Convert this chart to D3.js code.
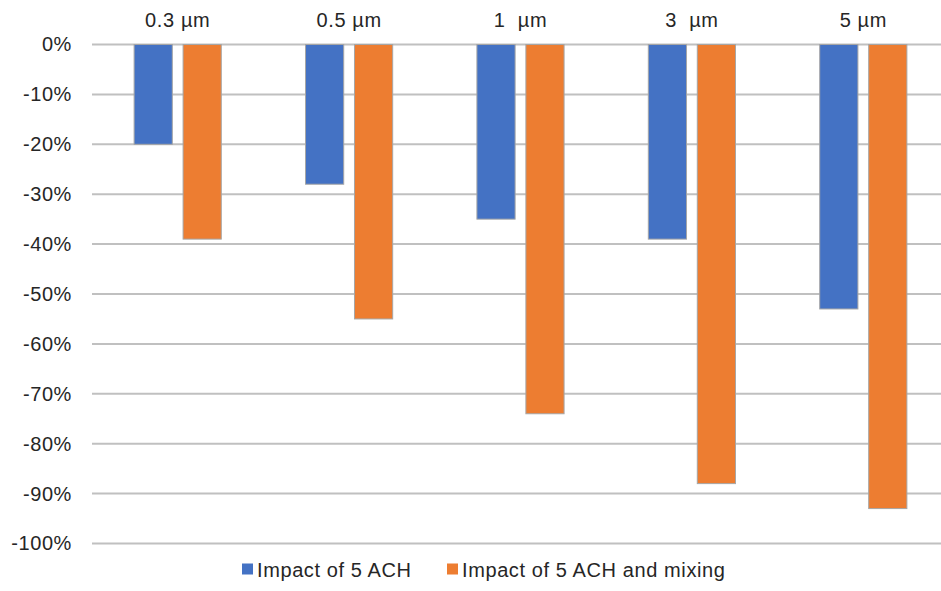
<!DOCTYPE html>
<html lang="en">
<head>
<meta charset="utf-8">
<script src="https://d3js.org/d3.v7.min.js"></script>
<title>Impact of ACH by particle size</title>
<style>
  body { margin: 0; background: #fff; }
  text { font-family: "Liberation Sans", Arial, sans-serif; fill: #262626; }
</style>
</head>
<body>
<svg width="941" height="591"></svg>
<script>
// particle sizes (the double spaces are in the original labels)
var sizes = ["0.3 µm", "0.5 µm", "1  µm", "3  µm", "5 µm"];
var seriesNames = ["Impact of 5 ACH", "Impact of 5 ACH and mixing"];
var ach5 = [-0.20, -0.28, -0.35, -0.39, -0.53];
var ach5Mixing = [-0.39, -0.55, -0.74, -0.88, -0.93];
var yTicks = [0, -0.1, -0.2, -0.3, -0.4, -0.5, -0.6, -0.7, -0.8, -0.9, -1.0];
var colors = ["#4472c4", "#ed7d31"];

var rows = sizes.map(function(s, i) {
  return { size: s, values: [ach5[i], ach5Mixing[i]] };
});

var svg = d3.select("svg");

var x0 = d3.scaleBand()
    .domain(sizes)
    .range([92, 949]);

var x1 = d3.scaleBand()
    .domain(seriesNames)
    .range([0, x0.bandwidth()])
    .paddingInner(0.22)
    .paddingOuter(0.86);

var y = d3.scaleLinear()
    .domain([-1, 0])
    .range([543.5, 44.5]);

var color = d3.scaleOrdinal().domain(seriesNames).range(colors);

// plain hyphen like the original, not d3's unicode minus
var pct = function(d) { return Math.round(d * 100) + "%"; };

// gridlines
svg.append("g")
  .selectAll("line")
  .data(yTicks)
  .enter().append("line")
    .attr("x1", 92)
    .attr("x2", 941)
    .attr("y1", function(d) { return y(d); })
    .attr("y2", function(d) { return y(d); })
    .attr("stroke", "#c0c0c0")
    .attr("stroke-width", 2);

// y axis labels
var yAxis = svg.append("g")
    .attr("transform", "translate(92,0)")
    .call(d3.axisLeft(y).tickValues(yTicks).tickSize(0).tickPadding(20).tickFormat(pct));
yAxis.select(".domain").remove();
yAxis.selectAll("text")
    .style("font-size", "20px")
    .style("letter-spacing", "0.6px")
    .attr("fill", "#262626");

// bars
var group = svg.selectAll(".group")
  .data(rows)
  .enter().append("g")
    .attr("class", "group")
    .attr("transform", function(d) { return "translate(" + x0(d.size) + ",0)"; });

group.selectAll("rect")
  .data(function(d) { return d.values.map(function(v, i) { return { key: seriesNames[i], value: v }; }); })
  .enter().append("rect")
    .attr("x", function(d) { return x1(d.key); })
    .attr("y", y(0))
    .attr("width", x1.bandwidth())
    .attr("height", function(d) { return y(d.value) - y(0); })
    .attr("fill", function(d) { return color(d.key); })
    .attr("stroke", "#a6a6a6")
    .attr("stroke-width", 1);

// category labels on top
var xAxis = svg.append("g")
    .attr("transform", "translate(0,44.5)")
    .call(d3.axisTop(x0).tickSize(0).tickPadding(17.5));
xAxis.select(".domain").remove();
xAxis.selectAll("text")
    .style("font-size", "20px")
    .style("letter-spacing", "0.6px")
    .style("white-space", "pre")
    .attr("fill", "#262626");

// legend
var legendX = [242, 447];
var legend = svg.selectAll(".legend")
  .data(seriesNames)
  .enter().append("g")
    .attr("class", "legend")
    .attr("transform", function(d, i) { return "translate(" + legendX[i] + ",569.5)"; });

legend.append("rect")
    .attr("x", 0)
    .attr("y", -6)
    .attr("width", 11)
    .attr("height", 11)
    .attr("fill", function(d) { return color(d); });

legend.append("text")
    .attr("x", 15)
    .attr("dy", "0.35em")
    .style("font-size", "20px")
    .style("letter-spacing", "0.6px")
    .text(function(d) { return d; });
</script>
</body>
</html>
